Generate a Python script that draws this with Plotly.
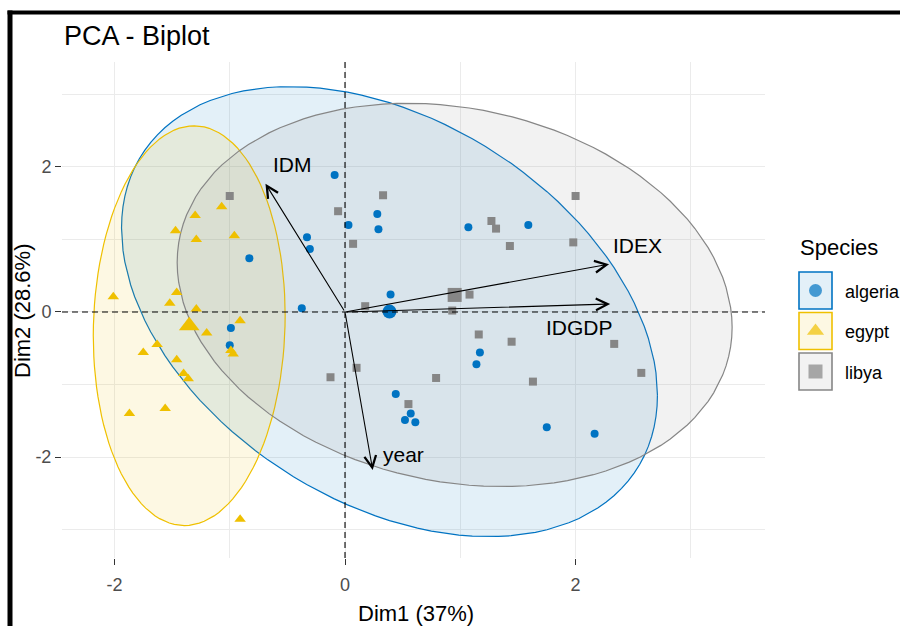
import numpy as np
import plotly.graph_objects as go

# ---------------- data ----------------
groups = ["algeria", "egypt", "libya"]

algeria_dim1 = [-0.83, -0.99, -1.00, -0.375, -0.09, 0.03, -0.33, -0.305, 0.28, 0.29, 1.07,
                1.59, 0.395, 1.17, 1.14, 0.44, 0.57, 0.52, 0.61, 1.75, 2.165]
algeria_dim2 = [0.74, -0.22, -0.46, 0.05, 1.89, 1.20, 1.03, 0.87, 1.35, 1.14, 1.17,
                1.20, 0.24, -0.56, -0.72, -1.13, -1.40, -1.49, -1.52, -1.59, -1.68]

egypt_dim1 = [-1.07, -1.30, -1.47, -1.29, -0.96, -2.01, -1.46, -1.52, -1.29, -0.91, -1.20,
              -1.63, -1.75, -0.99, -0.97, -1.46, -1.40, -1.36, -1.87, -1.56, -0.91]
egypt_dim2 = [1.45, 1.33, 1.12, 1.00, 1.05, 0.21, 0.27, 0.12, 0.04, -0.12, -0.29,
              -0.45, -0.56, -0.53, -0.58, -0.66, -0.85, -0.92, -1.40, -1.33, -2.86]

libya_dim1 = [-1.00, -0.06, 0.07, -0.126, 0.33, 1.27, 1.31, 1.43, 2.00, 1.98, 1.08,
              0.93, 0.175, 1.16, 1.445, 2.335, 2.57, 1.63, 0.79, 0.10, 0.55]
libya_dim2 = [1.60, 1.39, 0.94, -0.90, 1.61, 1.255, 1.15, 0.91, 1.60, 0.96, 0.24,
              0.02, 0.08, -0.31, -0.41, -0.44, -0.84, -0.96, -0.91, -0.77, -1.27]

var_names = ["IDM", "IDEX", "IDGDP", "year"]
var_dim1 = [-0.69, 2.29, 2.30, 0.24]
var_dim2 = [1.77, 0.66, 0.11, -2.18]

x_ticks = [-2, 0, 2]
x_tick_labels = ["-2", "0", "2"]
y_ticks = [-2, 0, 2]
y_tick_labels = ["-2", "0", "2"]

# ---------------- styles ----------------
colors = ["#0073C2", "#EFC000", "#868686"]
fills = ["rgba(0,115,194,0.11)", "rgba(239,192,0,0.11)", "rgba(134,134,134,0.11)"]
symbols = ["circle", "triangle-up", "square"]
pt_sizes = [8, 10, 8]
mean_sizes = [14, 18, 14]
FONT = "Liberation Sans, Arial, sans-serif"

series = {
    "algeria": (algeria_dim1, algeria_dim2),
    "egypt": (egypt_dim1, egypt_dim2),
    "libya": (libya_dim1, libya_dim2),
}


def norm_ellipse(x, y, level=0.95, segments=121):
    x = np.asarray(x, float)
    y = np.asarray(y, float)
    n = len(x)
    S = np.cov(np.vstack([x, y]))
    d = n - 1
    qf = d / 2.0 * ((1 - level) ** (-2.0 / d) - 1)  # F(2, d) quantile
    r = np.sqrt(2 * qf)
    t = np.linspace(0, 2 * np.pi, segments)
    circ = np.column_stack([np.cos(t), np.sin(t)])
    R = np.linalg.cholesky(S).T
    pts = circ @ R * r + np.array([x.mean(), y.mean()])
    return pts[:, 0], pts[:, 1]


fig = go.Figure()

# ellipses
for g, c, f in zip(groups, colors, fills):
    ex, ey = norm_ellipse(*series[g])
    fig.add_trace(go.Scatter(x=ex, y=ey, mode="lines", fill="toself", fillcolor=f,
                             line=dict(color=c, width=1.2), hoverinfo="skip", showlegend=False))

# points
for g, c, s, ps in zip(groups, colors, symbols, pt_sizes):
    xs, ys = series[g]
    fig.add_trace(go.Scatter(x=xs, y=ys, mode="markers",
                             marker=dict(color=c, symbol=s, size=ps, line=dict(width=0)),
                             showlegend=False, name=g))

# group means
for g, c, s, ms in zip(groups, colors, symbols, mean_sizes):
    xs, ys = series[g]
    fig.add_trace(go.Scatter(x=[float(np.mean(xs))], y=[float(np.mean(ys))], mode="markers",
                             marker=dict(color=c, symbol=s, size=ms, line=dict(width=0)),
                             showlegend=False))

# ---------------- layout geometry (screen pixels) ----------------
W, H = 900, 626
L_PX, R_PX, T_PX, B_PX = 62, 765, 62, 558
plot_w = W - L_PX
plot_h = B_PX - T_PX
main_dom = (R_PX - L_PX) / plot_w


def px_x(px):
    return (px - L_PX) / plot_w


def px_y(py):
    return (B_PX - py) / plot_h


annotations = []
shapes = []

# variable arrows and labels
label_shift = {"IDM": (27, 19), "IDEX": (28, 19), "IDGDP": (-31, -23), "year": (31, 16)}
for nm, vx, vy in zip(var_names, var_dim1, var_dim2):
    annotations.append(dict(x=vx, y=vy, ax=0, ay=0, xref="x", yref="y", axref="x", ayref="y",
                            showarrow=True, arrowhead=5, arrowsize=2.1, arrowwidth=1.1,
                            arrowcolor="black", text=""))
    sx, sy = label_shift[nm]
    annotations.append(dict(x=vx, y=vy, xref="x", yref="y", text=nm, showarrow=False,
                            xshift=sx, yshift=sy, font=dict(size=21, color="black", family=FONT)))

# dashed zero lines
shapes.append(dict(type="line", xref="x", yref="paper", x0=0, x1=0, y0=0, y1=1,
                   line=dict(color="black", width=1.1, dash="6px,4px")))
shapes.append(dict(type="line", xref="x", yref="y", x0=-2.455, x1=3.643, y0=0, y1=0,
                   line=dict(color="black", width=1.1, dash="6px,4px")))

# title & axis titles
annotations.append(dict(xref="paper", yref="paper", x=px_x(62), y=px_y(36), xanchor="left",
                        yanchor="middle", text="PCA - Biplot", showarrow=False,
                        font=dict(size=27, color="black", family=FONT)))
annotations.append(dict(xref="paper", yref="paper", x=px_x(415.5), y=px_y(613), xanchor="center",
                        yanchor="middle", text="Dim1 (37%)", showarrow=False,
                        font=dict(size=22, color="black", family=FONT)))
annotations.append(dict(xref="paper", yref="paper", x=px_x(22), y=px_y(311), xanchor="center",
                        yanchor="middle", text="Dim2 (28.6%)", showarrow=False, textangle=-90,
                        font=dict(size=22, color="black", family=FONT)))

# custom legend (in legend axes, pixel units)
annotations.append(dict(xref="x2", yref="y2", x=798, y=247, xanchor="left", yanchor="middle",
                        text="Species", showarrow=False, font=dict(size=22, color="black", family=FONT)))
box_tops = [272, 312.5, 353]
box_h = 37
for g, c, f, s, top in zip(groups, colors, fills, symbols, box_tops):
    shapes.append(dict(type="rect", xref="x2", yref="y2", x0=799, x1=832, y0=top, y1=top + box_h,
                       line=dict(color=c, width=1.6), fillcolor=f, layer="below"))
    cy = top + box_h / 2
    annotations.append(dict(xref="x2", yref="y2", x=843, y=cy + 1, xanchor="left", yanchor="middle",
                            text=g, showarrow=False, font=dict(size=18, color="black", family=FONT)))
fig.add_trace(go.Scatter(x=[815.5] * 3, y=[t + box_h / 2 for t in box_tops], mode="markers",
                         xaxis="x2", yaxis="y2",
                         marker=dict(color=colors, symbol=symbols, size=[13, 15, 14], line=dict(width=0)),
                         showlegend=False, hoverinfo="skip"))

# screenshot frame
shapes.append(dict(type="rect", xref="paper", yref="paper", x0=px_x(7.5), x1=px_x(900),
                   y0=px_y(14.5), y1=px_y(10.5), fillcolor="black", line=dict(width=0), layer="above"))
shapes.append(dict(type="rect", xref="paper", yref="paper", x0=px_x(7.5), x1=px_x(12.5),
                   y0=px_y(626), y1=px_y(10.5), fillcolor="black", line=dict(width=0), layer="above"))

grid_c = "#EBEBEB"
fig.update_layout(
    width=W, height=H,
    margin=dict(l=L_PX, r=0, t=T_PX, b=H - B_PX, pad=0),
    paper_bgcolor="white", plot_bgcolor="white",
    showlegend=False,
    font=dict(family=FONT),
    xaxis=dict(domain=[0, main_dom], range=[-2.455, 3.643], tickvals=x_ticks, ticktext=x_tick_labels,
               showgrid=True, gridcolor=grid_c, gridwidth=1, zeroline=False, showline=False,
               ticks="outside", ticklen=6, tickcolor="#333333", tickwidth=1, ticklabelstandoff=4,
               tickfont=dict(size=18, color="#4D4D4D", family=FONT),
               minor=dict(dtick=1, tick0=0, showgrid=True, gridcolor=grid_c, gridwidth=1, ticks=""),
               fixedrange=True),
    yaxis=dict(domain=[0, 1], range=[-3.393, 3.448], tickvals=y_ticks, ticktext=y_tick_labels,
               showgrid=True, gridcolor=grid_c, gridwidth=1, zeroline=False, showline=False,
               ticks="outside", ticklen=6, tickcolor="#333333", tickwidth=1,
               tickfont=dict(size=18, color="#4D4D4D", family=FONT),
               minor=dict(dtick=1, tick0=0, showgrid=True, gridcolor=grid_c, gridwidth=1, ticks=""),
               fixedrange=True),
    xaxis2=dict(domain=[main_dom, 1], range=[R_PX, W], visible=False, anchor="y2", fixedrange=True),
    yaxis2=dict(domain=[0, 1], range=[B_PX, T_PX], visible=False, anchor="x2", fixedrange=True),
    annotations=annotations,
    shapes=shapes,
)

fig.write_html(
    "out.html",
    config={"displayModeBar": False},
    post_script="document.documentElement.style.overflow='hidden';"
                "document.body.style.margin='0';document.body.style.overflow='hidden';",
)
